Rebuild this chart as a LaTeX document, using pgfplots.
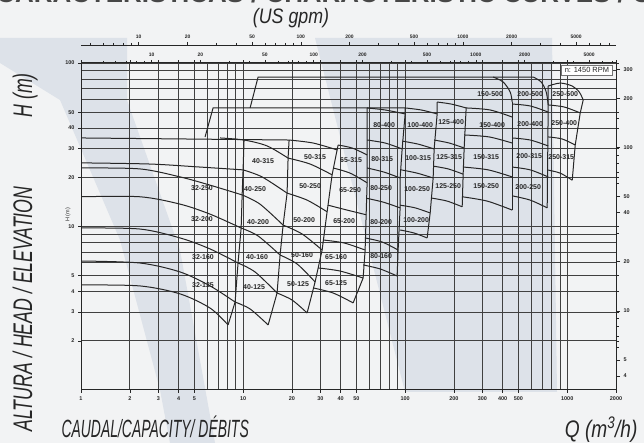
\documentclass[border=0pt]{standalone}
\usepackage{pgfplots}
\pgfplotsset{compat=1.18}
\usepackage{fontspec}
\setmainfont{Liberation Sans}
\definecolor{bg}{HTML}{F2F3F4}
\definecolor{band}{HTML}{DDE2E9}
\definecolor{ink}{HTML}{262626}
\pgfplotsset{
  tl/.style={ink, line width=1bp, no markers, smooth, tension=0.5},
  bd/.style={ink, line width=1bp, no markers},
  base/.style={at={(81bp,53bp)}, anchor=south west, width=535bp, height=327bp, scale only axis,
    tick style={ink, line width=0.5bp},
    ticklabel style={font=\fontsize{5}{5}\selectfont\bfseries, text=ink},
    /pgf/number format/assume math mode=true},
}
\tikzset{lab/.style={font=\fontsize{7}{7}\selectfont\bfseries, text=ink, inner sep=0pt}}
\begin{document}
\begin{tikzpicture}
\useasboundingbox (0bp,0bp) rectangle (644bp,443bp);
\clip (0bp,0bp) rectangle (644bp,443bp);
\fill[bg] (0bp,0bp) rectangle (644bp,443bp);
\fill[band] (0bp,405bp) -- (127bp,405bp) -- (127bp,343bp) -- (180bp,193bp) -- (215bp,0bp) -- (170bp,0bp) -- (160bp,53bp) -- (120bp,203bp) -- (60bp,343bp) -- (0bp,380bp) -- cycle;
\fill[band] (315bp,405bp) -- (552bp,405bp) -- (557bp,51bp) -- (405bp,51bp) -- cycle;

\node[anchor=base, font=\fontsize{26}{26}\selectfont\bfseries, text=ink!85] at (322bp,440bp) {CURVAS CARACTERÍSTICAS / CHARACTERISTIC CURVES / COURBES};
\node[font=\fontsize{21}{21}\selectfont\itshape, text=ink] at (291bp,425bp) {\scalebox{0.85}[1]{(US gpm)}};
\node[rotate=90, anchor=base west, font=\fontsize{27}{27}\selectfont\itshape, text=ink] at (32bp,8bp) {\scalebox{0.66}[1]{ALTURA / HEAD / ELEVATION}};
\node[rotate=90, anchor=base west, font=\fontsize{27}{27}\selectfont\itshape, text=ink] at (32bp,322bp) {\scalebox{0.66}[1]{H (m)}};
\node[anchor=base west, font=\fontsize{25}{25}\selectfont\itshape, text=ink] at (58bp,6bp) {\scalebox{0.56}[1]{CAUDAL/CAPACITY/ DÉBITS}};
\node[anchor=base east, font=\fontsize{24}{24}\selectfont\itshape, text=ink] at (641bp,6bp) {\scalebox{0.8}[1]{Q (m\textsuperscript{3}/h)}};
\node[rotate=90, font=\fontsize{5.5}{5.5}\selectfont, text=ink] at (68bp,228bp) {H (m)};

% US gpm scale
\begin{axis}[base, height=345bp,
  xmode=log, xmin=4.403, xmax=8806, ymin=0, ymax=1, hide y axis, axis x line*=top,
  axis line style={ink, line width=0.7bp},
  xtick={10,20,50,100,200,500,1000,2000,5000},
  xticklabels={10,20,50,100,200,500,1000,2000,5000},
  minor xtick={5,6,7,8,9,30,40,60,70,80,90,300,400,600,700,800,900,3000,4000,6000,7000,8000},
  tick align=outside, major tick length=3bp, minor tick length=2bp]
\addplot[draw=none] coordinates {(10,0.5)};
\end{axis}

% Imperial gpm scale
\begin{axis}[base,
  xmode=log, xmin=3.666, xmax=7332, ymin=0, ymax=1, hide y axis, axis x line*=top,
  axis line style={ink, line width=0.9bp},
  xtick={10,20,50,100,200,500,1000,2000,5000},
  xticklabels={10,20,50,100,200,500,1000,2000,5000},
  minor xtick={5,6,7,8,9,30,40,60,70,80,90,300,400,600,700,800,900,3000,4000,6000,7000},
  tick align=outside, major tick length=3bp, minor tick length=2bp]
\addplot[draw=none] coordinates {(10,0.5)};
\end{axis}

% feet scale on the right
\begin{axis}[base,
  ymode=log, ymin=3.2808, ymax=328.08, xmin=0, xmax=1, hide x axis, axis y line*=right,
  axis line style={ink, line width=0.9bp},
  ytick={4,5,10,20,40,50,100,200,300},
  yticklabels={4,5,10,20,40,50,100,200,300},
  minor ytick={6,7,8,9,30,60,70,80,90,150},
  tick align=outside, major tick length=4bp, minor tick length=2.5bp,
  ticklabel style={font=\fontsize{5.5}{5.5}\selectfont\bfseries, text=ink}]
\addplot[draw=none] coordinates {(0.5,10)};
\end{axis}

% main chart
\begin{axis}[base,
  xmode=log, ymode=log, xmin=1, xmax=2000, ymin=1, ymax=100,
  axis line style={ink, line width=1bp},
  xtick={1,2,3,4,5,10,20,30,40,50,100,200,300,400,500,1000,2000},
  xticklabels={1,2,3,4,5,10,20,30,40,50,100,200,300,400,500,1000,2000},
  minor xtick={6,7,8,9,60,70,80,90,600,700,800,900},
  ytick={2,3,4,5,10,20,30,40,50,100},
  yticklabels={2,3,4,5,10,20,30,40,50,100},
  minor ytick={6,7,8,9,60,70,80,90},
  grid=both,
  major grid style={black!75, line width=0.6bp},
  minor grid style={black!75, line width=0.6bp},
  tick align=outside, major tick length=3bp, minor tick length=0pt,
  ticklabel style={font=\fontsize{5.5}{5.5}\selectfont\bfseries, text=ink}]

% column 32 (curves reaching the left frame)
\addplot[tl] coordinates {(1,4.39) (2.31,4.33) (4.09,3.87) (6.26,3.17) (8.08,2.50)};
\addplot[tl] coordinates {(1,6.15) (2.31,5.98) (4.09,5.27) (6.26,4.33) (8.93,3.45)};
\addplot[tl] coordinates {(1,9.79) (2.31,9.65) (4.09,8.51) (6.26,7.29) (9.31,5.98)};
\addplot[tl] coordinates {(1,15.2) (2.31,15.2) (4.09,13.7) (6.26,11.9) (9.73,9.79)};
\addplot[tl] coordinates {(1,22.8) (2.31,22.5) (4.09,20.1) (6.26,17.9) (9.87,15.6)};
\addplot[tl] coordinates {(1,24.5) (2.67,24.1) (5.42,23.1) (10.0,22.2)};
\addplot[bd] coordinates {(1,34.8) (19.23,33.8)};
\addplot[tl] coordinates {(7.21,34.8) (10.14,33.8) (14.07,31.1) (18.96,26.2)};
\addplot[bd] coordinates {(5.83,35.3) (6.53,53.1) (100,53.1)};
\addplot[bd] coordinates {(11.05,53.1) (12.38,82.1) (616.8,82.1)};
\addplot[bd] coordinates {(8.08,2.50) (8.93,3.45) (9.31,5.98) (9.73,9.79) (9.87,15.6) (10.0,22.2) (10.14,33.8)};

% column 40
\addplot[tl] coordinates {(8.93,3.45) (11.05,3.13) (14.28,2.50)};
\addplot[tl] coordinates {(9.31,5.98) (11.86,5.27) (16.21,3.92)};
\addplot[tl] coordinates {(9.73,9.79) (12.38,8.75) (16.92,6.69)};
\addplot[tl] coordinates {(9.87,15.6) (12.72,13.7) (17.66,10.2)};
\addplot[tl] coordinates {(10.0,22.2) (13.10,20.1) (18.69,16.0)};
\addplot[bd] coordinates {(14.28,2.50) (16.21,3.92) (16.92,6.69) (17.66,10.2) (18.69,16.0) (18.96,26.2) (19.23,33.8)};

% column 50
\addplot[tl] coordinates {(16.21,3.92) (20.07,3.55) (24.84,2.96)};
\addplot[tl] coordinates {(16.92,6.69) (21.54,5.90) (27.82,4.58)};
\addplot[tl] coordinates {(17.66,10.2) (23.13,9.00) (30.74,7.18)};
\addplot[tl] coordinates {(18.69,16.0) (24.84,14.5) (33.0,12.3)};
\addplot[tl] coordinates {(18.96,26.2) (25.92,24.1) (35.43,20.7)};
\addplot[tl] coordinates {(19.23,33.8) (27.05,32.4) (38.04,29.4)};
\addplot[bd] coordinates {(24.84,2.96) (27.82,4.58) (30.74,7.18) (33.0,12.3) (35.43,20.7) (38.04,29.4) (38.59,31.5)};

% column 65
\addplot[tl] coordinates {(27.05,4.21) (35.94,3.92) (47.76,3.41)};
\addplot[tl] coordinates {(29.04,5.58) (39.7,5.34) (55.05,4.84)};
\addplot[tl] coordinates {(31.18,8.27) (42.03,7.93) (56.64,7.18)};
\addplot[tl] coordinates {(33.47,13.5) (43.85,12.6) (57.46,11.8)};
\addplot[tl] coordinates {(35.94,22.8) (45.77,21.2) (58.27,18.5)};
\addplot[tl] coordinates {(38.59,31.5) (47.09,30.2) (58.27,27.4)};
\addplot[bd] coordinates {(47.76,3.41) (55.05,4.84) (56.64,7.18) (57.46,11.8) (58.27,18.5) (58.27,27.4) (58.27,33.8) (58.27,53.1)};

% column 80
\addplot[tl] coordinates {(55.05,5.82) (70.09,5.50) (89.24,4.98)};
\addplot[tl] coordinates {(56.64,8.51) (72.11,8.04) (90.5,7.18)};
\addplot[tl] coordinates {(57.46,14.9) (73.13,14.1) (93.13,13.0)};
\addplot[tl] coordinates {(58.27,22.8) (74.2,21.5) (93.13,19.8)};
\addplot[tl] coordinates {(58.27,33.8) (75.25,32.4) (95.83,29.8)};
\addplot[tl] coordinates {(58.27,53.1) (75.25,51.6) (100,48.8)};
\addplot[bd] coordinates {(89.24,4.98) (90.5,7.18) (93.13,13.0) (93.13,19.8) (95.83,29.8) (100,48.8) (100,53.1)};

% column 100
\addplot[tl] coordinates {(93.13,9.52) (113.6,9.12) (136.7,8.51)};
\addplot[tl] coordinates {(93.13,13.5) (115.3,13.0) (142.7,12.1)};
\addplot[tl] coordinates {(94.5,22.2) (118.6,21.2) (148.9,19.8)};
\addplot[tl] coordinates {(95.83,33.3) (120.3,31.9) (151.0,29.8)};
\addplot[tl] coordinates {(100,53.1) (125.6,51.6) (157.6,48.8)};
\addplot[bd] coordinates {(136.7,8.51) (142.7,12.1) (148.9,19.8) (151.0,29.8) (157.6,48.8) (157.6,57.7)};

% column 125
\addplot[tl] coordinates {(146.8,14.9) (181.7,14.3) (224.9,13.2)};
\addplot[tl] coordinates {(148.9,23.4) (184.3,22.5) (228.0,20.9)};
\addplot[tl] coordinates {(151.0,33.8) (186.9,32.4) (231.3,30.2)};
\addplot[tl] coordinates {(157.6,57.7) (192.3,56.1) (237.9,53.1)};
\addplot[bd] coordinates {(224.9,13.2) (228.0,20.9) (231.3,30.2) (237.9,53.1)};

% column 150
\addplot[tl] coordinates {(224.9,15.2) (320.8,14.3) (457.6,12.6)};
\addplot[tl] coordinates {(228.0,23.1) (325.4,22.2) (457.6,20.1)};
\addplot[tl] coordinates {(231.3,36.3) (330.0,35.3) (457.6,32.4)};
\addplot[tl] coordinates {(237.9,53.1) (334.6,51.6) (457.6,46.7)};
\addplot[tl] coordinates {(349.2,82.1) (402.6,76.5) (444.7,66.5) (457.6,57.7)};
\addplot[bd] coordinates {(457.6,12.6) (457.6,57.7)};

% column 200
\addplot[tl] coordinates {(457.6,15.4) (591.0,14.5) (752.5,13.0)};
\addplot[tl] coordinates {(457.6,23.1) (591.0,22.2) (763.4,20.1)};
\addplot[tl] coordinates {(457.6,34.8) (591.0,33.8) (763.4,31.1)};
\addplot[tl] coordinates {(457.6,56.1) (591.0,54.6) (763.4,50.1)};
\addplot[tl] coordinates {(616.8,82.1) (691.2,76.5) (742.1,66.5) (763.4,55.4)};
\addplot[bd] coordinates {(752.5,13.0) (763.4,55.4) (763.4,72.3)};

% column 250
\addplot[tl] coordinates {(752.5,22.2) (905.4,21.2) (1074,19.2)};
\addplot[tl] coordinates {(763.4,35.3) (931.4,34.3) (1120.5,31.5)};
\addplot[tl] coordinates {(763.4,55.4) (958.3,53.8) (1203,49.5)};
\addplot[tl] coordinates {(763.4,72.3) (905.4,75.4) (1074,72.3) (1186,66.5) (1255,59.4)};
\addplot[bd] coordinates {(1074,19.2) (1120.5,31.5) (1203,49.5) (1255,59.4)};

% labels
\node[lab] at (axis cs:5.66,4.39) {32-125};
\node[lab] at (axis cs:5.66,6.51) {32-160};
\node[lab] at (axis cs:5.58,11.1) {32-200};
\node[lab] at (axis cs:5.58,17.2) {32-250};
\node[lab] at (axis cs:11.69,4.27) {40-125};
\node[lab] at (axis cs:12.2,6.51) {40-160};
\node[lab] at (axis cs:12.38,10.7) {40-200};
\node[lab] at (axis cs:11.86,17.0) {40-250};
\node[lab] at (axis cs:13.29,25.2) {40-315};
\node[lab] at (axis cs:21.85,4.45) {50-125};
\node[lab] at (axis cs:23.13,6.69) {50-160};
\node[lab] at (axis cs:23.8,11.0) {50-200};
\node[lab] at (axis cs:25.92,17.7) {50-250};
\node[lab] at (axis cs:27.82,26.6) {50-315};
\node[lab] at (axis cs:37.5,4.51) {65-125};
\node[lab] at (axis cs:37.5,6.51) {65-160};
\node[lab] at (axis cs:42.03,10.8) {65-200};
\node[lab] at (axis cs:45.77,16.7) {65-250};
\node[lab] at (axis cs:46.4,25.5) {65-315};
\node[lab] at (axis cs:71.1,6.60) {80-160};
\node[lab] at (axis cs:71.1,10.7) {80-200};
\node[lab] at (axis cs:71.1,17.2) {80-250};
\node[lab] at (axis cs:72.11,25.9) {80-315};
\node[lab] at (axis cs:74.2,41.8) {80-400};
\node[lab] at (axis cs:116.9,11.0) {100-200};
\node[lab] at (axis cs:118.6,17.0) {100-250};
\node[lab] at (axis cs:120.3,26.2) {100-315};
\node[lab] at (axis cs:123.8,41.8) {100-400};
\node[lab] at (axis cs:184.3,17.7) {125-250};
\node[lab] at (axis cs:186.9,26.6) {125-315};
\node[lab] at (axis cs:192.3,43.6) {125-400};
\node[lab] at (axis cs:316.2,17.7) {150-250};
\node[lab] at (axis cs:316.2,26.6) {150-315};
\node[lab] at (axis cs:344.4,41.8) {150-400};
\node[lab] at (axis cs:334.6,64.6) {150-500};
\node[lab] at (axis cs:574.5,17.4) {200-250};
\node[lab] at (axis cs:582.8,27.0) {200-315};
\node[lab] at (axis cs:591.0,42.4) {200-400};
\node[lab] at (axis cs:591.0,64.6) {200-500};
\node[lab] at (axis cs:918.3,26.6) {250-315};
\node[lab] at (axis cs:958.3,43.0) {250-400};
\node[lab] at (axis cs:972.0,64.6) {250-500};
\node[draw=black!55, fill=white, line width=0.4bp, font=\fontsize{7.5}{7.5}\selectfont, text=ink, inner xsep=3.5bp, inner ysep=2.5bp, anchor=north east] at (rel axis cs:0.994,0.995) {n: 1450 RPM};
\end{axis}
\end{tikzpicture}
\end{document}
